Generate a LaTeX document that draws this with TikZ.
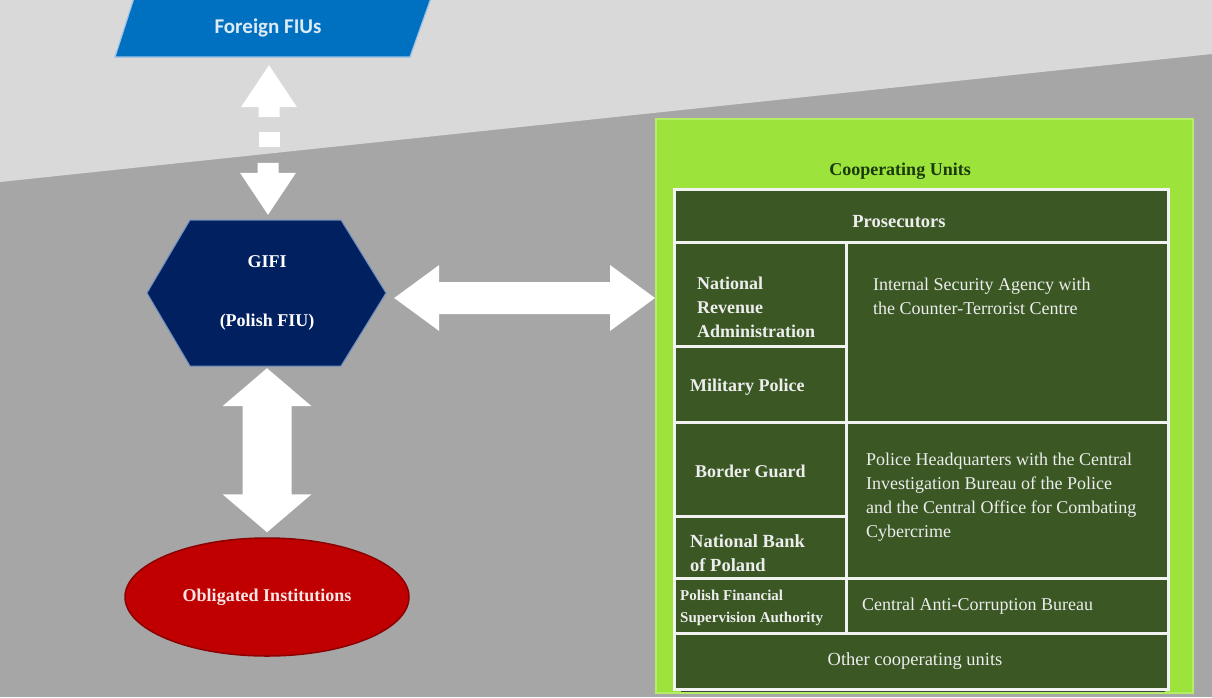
\documentclass[tikz,border=0pt]{standalone}
\usepackage{fontspec}
\setmainfont{Liberation Serif}
\newfontfamily\labelsans{Carlito}
\usetikzlibrary{shapes.geometric,calc}

\definecolor{bgdark}{HTML}{A6A6A6}
\definecolor{bglight}{HTML}{D9D9D9}
\definecolor{fiublue}{HTML}{0070C0}
\definecolor{fiuedge}{HTML}{9DC3E6}
\definecolor{fiutext}{HTML}{DDEBF7}
\definecolor{navy}{HTML}{002060}
\definecolor{navyedge}{HTML}{6F8FC0}
\definecolor{oblred}{HTML}{C00000}
\definecolor{obledge}{HTML}{8B0000}
\definecolor{obltext}{HTML}{FBE5E5}
\definecolor{coopgreen}{HTML}{9CE33B}
\definecolor{coopedge}{HTML}{B5EE66}
\definecolor{tablegreen}{HTML}{3A5724}
\definecolor{cellline}{HTML}{F2F2F2}
\definecolor{titlegreen}{HTML}{1B3A0B}
\definecolor{celltext}{HTML}{EDEDED}

% block double arrow: #1 from, #2 to, #3 shaft half width, #4 head half width, #5 head length
\newcommand\blockdbl[5]{%
  \path (#1) coordinate (da) (#2) coordinate (db);
  \coordinate (dA) at ($(da)!#5!(db)$);
  \coordinate (dB) at ($(db)!#5!(da)$);
  \fill[white] (da) -- ($(dA)!#4!90:(db)$) -- ($(dA)!#3!90:(db)$)
    -- ($(dB)!#3!-90:(da)$) -- ($(dB)!#4!-90:(da)$) -- (db)
    -- ($(dB)!#4!90:(da)$) -- ($(dB)!#3!90:(da)$)
    -- ($(dA)!#3!-90:(db)$) -- ($(dA)!#4!-90:(db)$) -- cycle;}

% table cell: name, x1, y1, x2, y2
\newcommand\tcell[5]{%
  \node[tcellbox, minimum width={#4-#2}, minimum height={#5-#3}, anchor=north west] (#1) at (#2,#3) {};}

\begin{document}
\begin{tikzpicture}[x=1pt,y=-1pt,
  tcellbox/.style={draw=cellline, fill=tablegreen, line width=2.6pt, inner sep=0pt},
  boldcell/.style={text=celltext, font=\bfseries\fontsize{18}{24}\selectfont, align=left, anchor=west, inner sep=0pt},
  plaincell/.style={text=celltext, font=\fontsize{18}{24}\selectfont, align=left, anchor=west, inner sep=0pt},
  centrecell/.style={text=celltext, inner sep=0pt},
]
\useasboundingbox (0,0) rectangle (1212,697);

% background: two grey bands split by a slanted edge
\fill[bgdark] (0,0) rectangle (1212,697);
\fill[bglight] (0,0) -- (1212,0) -- (1212,54) -- (0,182) -- cycle;

% Foreign FIUs parallelogram
\fill[fiublue, draw=fiuedge, line width=1.2pt] (134,-2) -- (431,-2) -- (410,57) -- (115,57) -- cycle;
\node[minimum height=58pt, inner sep=0pt, text=fiutext, font=\labelsans\bfseries\fontsize{21}{26}\selectfont] (ff) at (268,28) {Foreign FIUs};

% GIFI hexagon
\fill[navy, draw=navyedge, line width=1pt] (147,293) -- (190,220) -- (341,220) -- (386,293) -- (341,366) -- (190,366) -- cycle;
\node[minimum width=238pt, minimum height=146pt, inner sep=0pt, text=white, align=center,
  font=\bfseries\fontsize{18}{22}\selectfont] (gifi) at (267,293) {GIFI\\[37pt](Polish FIU)};

% Obligated Institutions ellipse
\node[ellipse, fill=oblred, draw=obledge, line width=1.5pt, minimum width=284pt, minimum height=118pt,
  text=obltext, font=\bfseries\fontsize{18}{22}\selectfont] (obl) at (267,597) {Obligated Institutions};

% Cooperating Units panel
\node[fill=coopgreen, draw=coopedge, line width=2pt, minimum width=537pt, minimum height=574pt,
  anchor=north west, inner sep=0pt] (coop) at (655,118) {};
\node[text=titlegreen, font=\bfseries\fontsize{18}{22}\selectfont] (cooptitle) at (900,171) {Cooperating Units};

% shadow under the table
\fill[black!75] (681,688) rectangle (1165,692);

% table cells
\tcell{pros}{673}{188}{1167}{241}
\tcell{nra}{673}{241}{845}{345}
\tcell{mil}{673}{345}{845}{421}
\tcell{isa}{845}{241}{1167}{421}
\tcell{bg}{673}{421}{845}{515}
\tcell{nbp}{673}{515}{845}{577}
\tcell{police}{845}{421}{1167}{577}
\tcell{pfsa}{673}{577}{845}{632}
\tcell{cab}{845}{577}{1167}{632}
\tcell{other}{673}{632}{1167}{688}

% table texts
\node[centrecell, font=\bfseries\fontsize{18.5}{22}\selectfont] (prostext) at (899,222) {Prosecutors};
\node[boldcell] (nratext) at (697,307) {National\\Revenue\\Administration};
\node[boldcell] (miltext) at (690,387) {Military Police};
\node[boldcell] (bgtext) at (695,471) {Border Guard};
\node[boldcell, font=\bfseries\fontsize{18.5}{24}\selectfont] (nbptext) at (690,553) {National Bank\\of Poland};
\node[boldcell, font=\bfseries\fontsize{15}{22}\selectfont] (pfsatext) at (680,608) {Polish Financial\\Supervision Authority};
\node[plaincell] (isatext) at (873,296) {Internal Security Agency with\\the Counter-Terrorist Centre};
\node[plaincell] (policetext) at (866,497) {Police Headquarters with the Central\\Investigation Bureau of the Police\\and the Central Office for Combating\\Cybercrime};
\node[plaincell] (cabtext) at (862,606) {Central Anti-Corruption Bureau};
\node[centrecell, font=\fontsize{18.5}{22}\selectfont] (othertext) at (915,661) {Other cooperating units};

% GIFI <-> Cooperating Units
\coordinate (hL) at ([xshift=8pt,yshift=-5pt]gifi.east);
\coordinate (hR) at (coop.west |- hL);
\blockdbl{hL}{hR}{16pt}{33pt}{45pt}

% GIFI <-> Obligated Institutions
\coordinate (vT) at ([yshift=-2pt]gifi.south);
\coordinate (vB) at ([yshift=5pt]obl.north);
\blockdbl{vT}{vB}{24.5pt}{44.5pt}{38pt}

% Foreign FIUs <-> GIFI, broken arrow
\coordinate (fT) at ([xshift=1pt,yshift=-8pt]ff.south);
\coordinate (gT) at ([xshift=1pt,yshift=5pt]gifi.north);
\fill[white] (fT) -- ($(fT)+(28,42)$) -- ($(fT)+(10.5,42)$) -- ($(fT)+(10.5,52)$)
  -- ($(fT)+(-10.5,52)$) -- ($(fT)+(-10.5,42)$) -- ($(fT)+(-28,42)$) -- cycle;
\fill[white] ($(fT)+(-10.5,67)$) rectangle ($(fT)+(10.5,82)$);
\fill[white] (gT) -- ($(gT)+(28,-42)$) -- ($(gT)+(10.5,-42)$) -- ($(gT)+(10.5,-52)$)
  -- ($(gT)+(-10.5,-52)$) -- ($(gT)+(-10.5,-42)$) -- ($(gT)+(-28,-42)$) -- cycle;
\end{tikzpicture}
\end{document}
